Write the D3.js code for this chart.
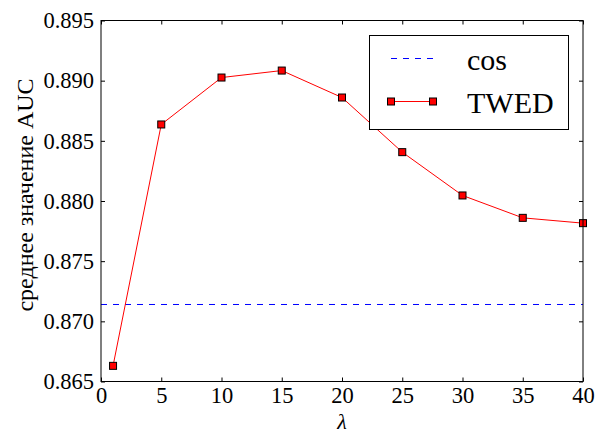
<!DOCTYPE html>
<html><head><meta charset="utf-8">
<script src="https://cdn.jsdelivr.net/npm/d3@7"></script>
<style>html,body{margin:0;padding:0;background:#fff;}svg{display:block;}</style>
</head><body>
<svg id="chart" width="598" height="434"></svg>
<script>
const lambdas = [1, 5, 10, 15, 20, 25, 30, 35, 40];
const twedAUC = [0.8663, 0.88636, 0.89026, 0.89084, 0.8886, 0.88406, 0.88046, 0.8786, 0.87816];
const cosAUC = 0.8714;
const xTicks = [0, 5, 10, 15, 20, 25, 30, 35, 40];
const yTicks = [0.865, 0.870, 0.875, 0.880, 0.885, 0.890, 0.895];
const seriesNames = ["cos", "TWED"];
const xLabel = "λ";
const yLabel = "среднее значение AUC";

const FONT = "'Liberation Serif', 'Times New Roman', serif";
const svg = d3.select("#chart");
const L = 101, R = 583, T = 20.5, B = 381.5;
const x = d3.scaleLinear().domain([0, 40]).range([L, R]);
const y = d3.scaleLinear().domain([0.865, 0.895]).range([B, T]);

// cos dashed line
svg.append("line")
  .attr("x1", x(0)).attr("x2", x(40))
  .attr("y1", y(cosAUC)).attr("y2", y(cosAUC))
  .attr("stroke", "#0000ff").attr("stroke-width", 1)
  .attr("stroke-dasharray", "6,6");

// TWED line
const line = d3.line().x((d, i) => x(lambdas[i])).y(d => y(d));
svg.append("path").datum(twedAUC)
  .attr("d", line).attr("fill", "none")
  .attr("stroke", "#ff0000").attr("stroke-width", 1);

const ms = 7;
svg.selectAll("rect.pt").data(twedAUC).enter().append("rect")
  .attr("class", "pt")
  .attr("x", (d, i) => x(lambdas[i]) - ms / 2)
  .attr("y", d => y(d) - ms / 2)
  .attr("width", ms).attr("height", ms)
  .attr("fill", "#ff0000").attr("stroke", "#000").attr("stroke-width", 1);

// axes (inward ticks on all sides)
const tl = 4;
const axB = d3.axisBottom(x).tickValues(xTicks).tickSize(-tl).tickPadding(5.5).tickFormat(d3.format("d"));
const axT = d3.axisTop(x).tickValues(xTicks).tickSize(-tl).tickFormat("");
const axLft = d3.axisLeft(y).tickValues(yTicks).tickSize(-tl).tickPadding(7).tickFormat(d3.format(".3f"));
const axRgt = d3.axisRight(y).tickValues(yTicks).tickSize(-tl).tickFormat("");

function styleAxis(g) {
  g.attr("font-family", FONT);
  g.select(".domain").remove();
  g.selectAll(".tick line").attr("stroke", "#000");
  g.selectAll("text").attr("font-family", FONT).attr("font-size", "22.5px").attr("fill", "#000");
}
svg.append("g").attr("transform", `translate(0,${B})`).call(axB).call(styleAxis);
svg.append("g").attr("transform", `translate(0,${T})`).call(axT).call(styleAxis);
svg.append("g").attr("transform", `translate(${L},0)`).call(axLft).call(styleAxis);
svg.append("g").attr("transform", `translate(${R},0)`).call(axRgt).call(styleAxis);

// frame
svg.append("rect").attr("x", L).attr("y", T).attr("width", R - L).attr("height", B - T)
  .attr("fill", "none").attr("stroke", "#000").attr("stroke-width", 1);

// labels
svg.append("text").attr("x", x(20)).attr("y", 429)
  .attr("text-anchor", "middle").attr("font-family", FONT).attr("font-style", "italic")
  .attr("font-size", "22px").text(xLabel);
svg.append("text")
  .attr("transform", `translate(33,${(T + B) / 2 - 6}) rotate(-90)`)
  .attr("text-anchor", "middle").attr("font-family", FONT)
  .attr("font-size", "24px").text(yLabel);

// legend
const lg = svg.append("g");
lg.append("rect").attr("x", 369.5).attr("y", 35.5).attr("width", 199).attr("height", 94)
  .attr("fill", "#fff").attr("stroke", "#000").attr("stroke-width", 1);
lg.append("line").attr("x1", 391).attr("x2", 433).attr("y1", 58.5).attr("y2", 58.5)
  .attr("stroke", "#0000ff").attr("stroke-width", 1).attr("stroke-dasharray", "6,6");
lg.append("text").attr("x", 467).attr("y", 69.5).attr("font-family", FONT)
  .attr("font-size", "30px").text(seriesNames[0]);
lg.append("line").attr("x1", 391).attr("x2", 433).attr("y1", 101.5).attr("y2", 101.5)
  .attr("stroke", "#ff0000").attr("stroke-width", 1);
[391, 433].forEach(cx => lg.append("rect").attr("x", cx - ms / 2).attr("y", 101.5 - ms / 2)
  .attr("width", ms).attr("height", ms).attr("fill", "#ff0000").attr("stroke", "#000"));
lg.append("text").attr("x", 467).attr("y", 112.5).attr("font-family", FONT)
  .attr("font-size", "30px").text(seriesNames[1]);
</script>
</body></html>
